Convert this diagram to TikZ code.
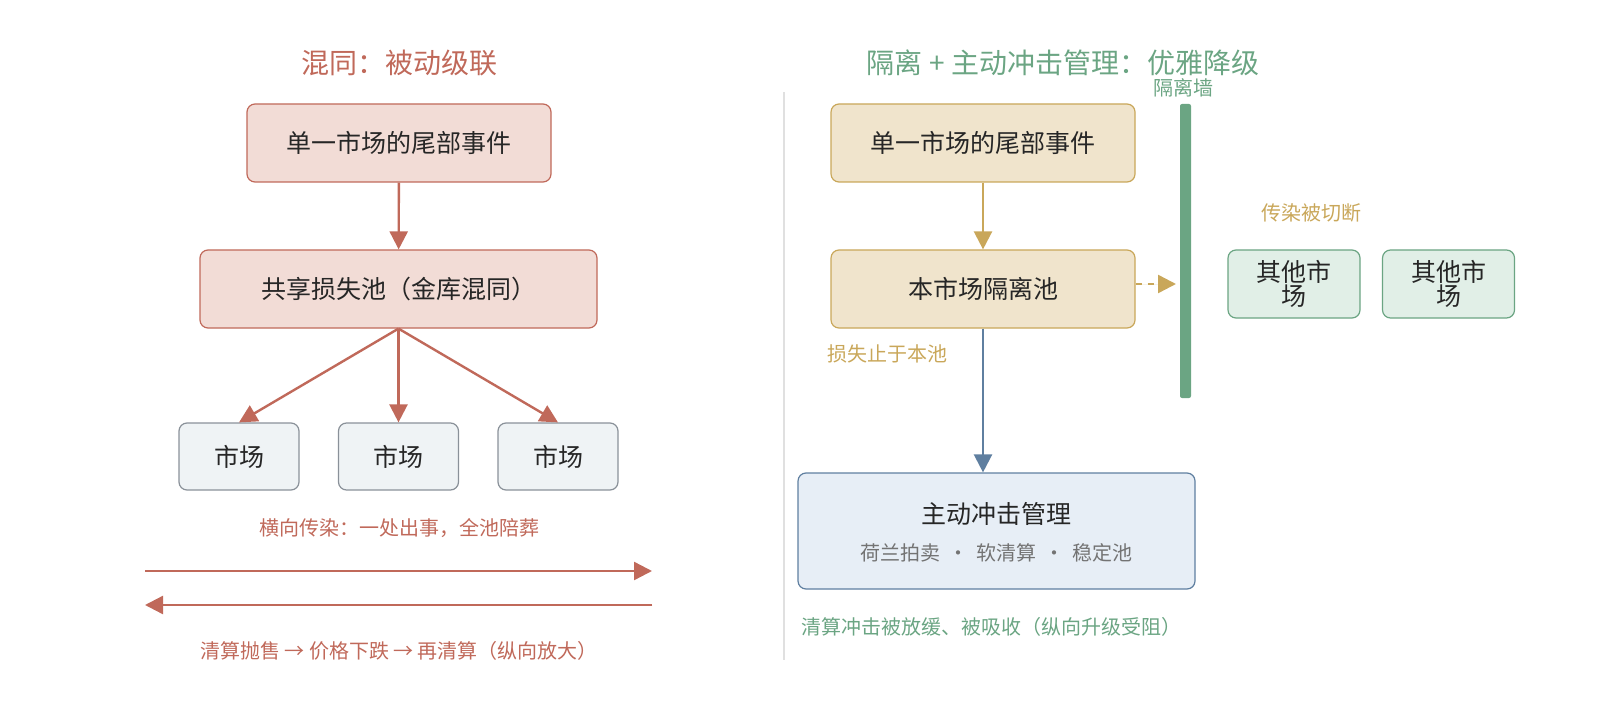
\documentclass[tikz,border=0pt]{standalone}
\usepackage{fontspec}
\setmainfont{Noto Sans CJK SC}
\usetikzlibrary{arrows.meta}
\definecolor{red1}{HTML}{C0695A}
\definecolor{redf}{HTML}{F2DCD6}
\definecolor{grayb}{HTML}{8A9199}
\definecolor{grayf}{HTML}{EFF3F5}
\definecolor{green1}{HTML}{6BA583}
\definecolor{greenf}{HTML}{E1EFE7}
\definecolor{gold}{HTML}{C9A75A}
\definecolor{goldf}{HTML}{F0E4CC}
\definecolor{blue1}{HTML}{5F7FA0}
\definecolor{bluef}{HTML}{E7EEF6}
\begin{document}
\begin{tikzpicture}[x=0.5pt,y=-0.5pt,
 box/.style={draw,rounded corners=4pt,line width=0.6pt},
 tip/.style={-{Triangle[width=9pt,length=9pt]},line width=1.2pt},
 t/.style={font=\fontsize{12.5}{14}\selectfont,text=black!85},
 lab/.style={font=\fontsize{10}{12}\selectfont}]
\useasboundingbox (0,0) rectangle (1600,727);
\node[text=red1,font=\fontsize{14}{16}\selectfont] (tl) at (399,63) {混同：被动级联};
\node[box,draw=red1,fill=redf,minimum width=152pt,minimum height=39pt,t] (a1) at (399,143) {单一市场的尾部事件};
\node[box,draw=red1,fill=redf,minimum width=198.5pt,minimum height=39pt,t] (a2) at (398.5,289) {共享损失池（金库混同）};
\foreach \n/\x in {m1/239,m2/398.5,m3/558}
 \node[box,draw=grayb,fill=grayf,minimum width=60pt,minimum height=33.5pt,t] (\n) at (\x,456.5) {市场};
\draw[tip,draw=red1,fill=red1] (a1) -- (a2);
\draw[tip,draw=red1,fill=red1] (a2.south) -- (m1.north);
\draw[tip,draw=red1,fill=red1] (a2.south) -- (m2.north);
\draw[tip,draw=red1,fill=red1] (a2.south) -- (m3.north);
\node[lab,text=red1] (l1) at (399,528) {横向传染：一处出事，全池陪葬};
\coordinate (r1) at (145,571); \coordinate (r2) at (652,571);
\coordinate (r3) at (652,605); \coordinate (r4) at (145,605);
\draw[tip,draw=red1,fill=red1] (r1) -- (r2);
\draw[tip,draw=red1,fill=red1] (r3) -- (r4);
\node[lab,text=red1] (l2) at (399,651) {清算抛售 → 价格下跌 → 再清算（纵向放大）};
\coordinate (d1) at (784,92); \coordinate (d2) at (784,660);
\draw[black!12,line width=0.8pt] (d1) -- (d2);
\node[text=green1,font=\fontsize{14}{16}\selectfont] (tr) at (1063,63) {隔离 + 主动冲击管理：优雅降级};
\node[lab,text=green1] (wl) at (1183,88) {隔离墙};
\node[fill=green1,rounded corners=1pt,minimum width=5.5pt,minimum height=147pt,inner sep=0] (wall) at (1185.5,251) {};
\node[box,draw=gold,fill=goldf,minimum width=152pt,minimum height=39pt,t] (b1) at (983,143) {单一市场的尾部事件};
\node[box,draw=gold,fill=goldf,minimum width=152pt,minimum height=39pt,t] (b2) at (983,289) {本市场隔离池};
\draw[tip,draw=gold,fill=gold] (b1) -- (b2);
\coordinate (w0) at (1176,284);
\draw[tip,draw=gold,fill=gold,dashed] (b2.east|-w0) -- (w0);
\node[lab,text=gold] (l3) at (887,354) {损失止于本池};
\node[lab,text=gold] (l4) at (1311,213) {传染被切断};
\foreach \n/\x in {o1/1294,o2/1448.5}
 \node[box,draw=green1,fill=greenf,minimum width=66pt,minimum height=34pt,t,align=center,inner sep=1pt] (\n) at (\x,284) {其他市\\[-2pt]场};
\node[box,draw=blue1,fill=bluef,minimum width=198.5pt,minimum height=58pt] (c) at (996.5,531) {};
\node[t] (c1) at (996.5,514) {主动冲击管理};
\node[lab,text=black!55] (c2) at (996.5,553) {荷兰拍卖 \,·\, 软清算 \,·\, 稳定池};
\draw[tip,draw=blue1,fill=blue1] (b2.south) -- (b2.south|-c.north);
\node[lab,text=green1] (l5) at (991,627) {清算冲击被放缓、被吸收（纵向升级受阻）};
\end{tikzpicture}
\end{document}
